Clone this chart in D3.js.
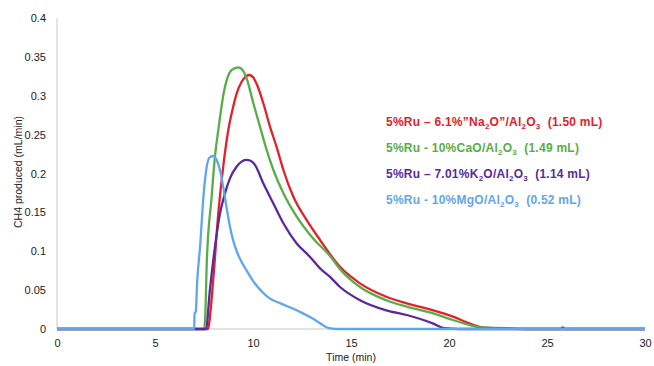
<!DOCTYPE html>
<html><head><meta charset="utf-8">
<script src="https://cdn.jsdelivr.net/npm/d3@7"></script>
<style>
body{margin:0;background:#fff;}
text{font-family:"Liberation Sans",Arial,Helvetica,sans-serif;}
</style></head>
<body><svg id="c" width="654" height="366"></svg>
<script>
const xTicks = [0,5,10,15,20,25,30];
const yTicks = [0,0.05,0.1,0.15,0.2,0.25,0.3,0.35,0.4];

const redT = [0,7.7,7.75,7.97,8.23,8.5,8.74,9.0,9.17,9.42,9.6,9.8,10.0,10.19,10.53,10.87,11.2,11.55,12.06,12.74,13.42,14.44,15.46,16.8,17.84,19.2,20.2,21.07,21.7,22.5,24,25.7,25.8,25.9,30];
const redV = [0,0,0.005,0.063,0.149,0.213,0.256,0.287,0.303,0.318,0.324,0.3267,0.324,0.315,0.290,0.260,0.2345,0.2045,0.170,0.140,0.1145,0.080,0.0587,0.0415,0.033,0.024,0.016,0.007,0.002,0.001,0,0,0.002,0,0];

const greenT = [0,7.5,7.57,7.64,7.89,8.06,8.23,8.32,8.5,8.66,8.9,9.25,9.5,9.68,10.0,10.36,10.7,11.04,11.55,12.23,13.08,13.93,14.44,15.46,16.8,17.84,19.2,20.2,21.07,21.7,23,24,30];
const greenV = [0,0,0.02,0.0845,0.17,0.222,0.256,0.273,0.303,0.320,0.333,0.3366,0.332,0.322,0.292,0.260,0.230,0.2045,0.1745,0.1445,0.116,0.094,0.077,0.054,0.037,0.0287,0.020,0.0116,0.005,0.002,0.001,0,0];

const purpleT = [0,7.6,7.8,8.06,8.32,8.57,8.83,9.17,9.4,9.65,9.9,10.1,10.53,11.04,11.55,12.23,12.9,13.42,13.93,14.44,15.46,16.8,17.84,19.2,19.75,20.5,30];
const purpleV = [0,0,0.050,0.106,0.149,0.1745,0.194,0.209,0.215,0.2174,0.216,0.211,0.187,0.1615,0.136,0.110,0.093,0.078,0.067,0.054,0.037,0.024,0.018,0.007,0.001,0,0];

const blueT = [0,7.0,7.02,7.08,7.15,7.3,7.47,7.64,7.8,7.97,8.15,8.32,8.5,8.66,8.83,9.0,9.17,9.34,9.68,10.0,10.5,10.87,11.4,12.4,13.0,13.4,13.7,13.9,14.2,30];
const blueV = [0,0,0.02,0.022,0.06,0.106,0.17,0.209,0.221,0.2225,0.217,0.204,0.180,0.155,0.131,0.113,0.100,0.090,0.075,0.062,0.047,0.039,0.033,0.022,0.014,0.0077,0.003,0.001,0,0];

const seriesColors = ["#e4202a","#58ad48","#5a2a9c","#5fa6ee"];

const svg = d3.select("#c");
const x = d3.scaleLinear().domain([0,30]).range([57,645]);
const y = d3.scaleLinear().domain([0,0.4]).range([329,18]);

svg.append("line").attr("x1",57).attr("x2",57).attr("y1",y(0.4)).attr("y2",y(0)).attr("stroke","#c8c8c8").attr("stroke-width",1);
svg.append("line").attr("x1",57).attr("x2",645).attr("y1",y(0)).attr("y2",y(0)).attr("stroke","#c8c8c8").attr("stroke-width",1);

const xAxis = d3.axisBottom(x).tickValues(xTicks).tickSize(0).tickPadding(10).tickFormat(d3.format("d"));
const gx = svg.append("g").attr("transform",`translate(0,${y(0)})`).call(xAxis);
gx.select(".domain").remove();
gx.selectAll("text").attr("font-size","11px").attr("fill","#222").attr("font-family","Liberation Sans, Arial, sans-serif");

const yAxis = d3.axisLeft(y).tickValues(yTicks).tickSize(0).tickPadding(11).tickFormat(d=>String(+d.toFixed(2)));
const gy = svg.append("g").attr("transform",`translate(57,0)`).call(yAxis);
gy.select(".domain").remove();
gy.selectAll("text").attr("font-size","11px").attr("fill","#222").attr("font-family","Liberation Sans, Arial, sans-serif");

svg.append("text").attr("x",351).attr("y",361).attr("text-anchor","middle").attr("font-size","10.5px").attr("fill","#222").text("Time (min)");
svg.append("text").attr("transform","translate(22,172) rotate(-90)").attr("text-anchor","middle").attr("font-size","10.5px").attr("fill","#222").text("CH4 produced (mL/min)");

const data = [
  d3.zip(redT,redV), d3.zip(greenT,greenV), d3.zip(purpleT,purpleV), d3.zip(blueT,blueV)
];
const line = d3.line().x(d=>x(d[0])).y(d=>y(d[1])).curve(d3.curveMonotoneX);
data.forEach((s,i)=>{
  svg.append("path").datum(s).attr("d",line).attr("fill","none")
    .attr("stroke",seriesColors[i]).attr("stroke-width",2.3).attr("stroke-linejoin","round");
});

const legend = [
  {c:seriesColors[0], parts:[["5%Ru – 6.1%”Na",""],["2","sub"],["O”/Al",""],["2","sub"],["O",""],["3","sub"],["  (1.50 mL)",""]]},
  {c:seriesColors[1], parts:[["5%Ru - 10%CaO/Al",""],["2","sub"],["O",""],["3","sub"],["  (1.49 mL)",""]]},
  {c:seriesColors[2], parts:[["5%Ru – 7.01%K",""],["2","sub"],["O/Al",""],["2","sub"],["O",""],["3","sub"],["  (1.14 mL)",""]]},
  {c:seriesColors[3], parts:[["5%Ru - 10%MgO/Al",""],["2","sub"],["O",""],["3","sub"],["  (0.52 mL)",""]]}
];
legend.forEach((l,i)=>{
  const t = svg.append("text").attr("x",386).attr("y",126+i*26).attr("font-size","12px")
    .attr("font-weight","bold").attr("fill",l.c).attr("letter-spacing","0.25px").style("white-space","pre");
  l.parts.forEach((p,j)=>{
    const ts = t.append("tspan").text(p[0]);
    if(p[1]==="sub") ts.attr("font-size","8px").attr("dy","3");
    else ts.attr("dy", j>0 ? "-3":"0");
  });
});
</script></body></html>
